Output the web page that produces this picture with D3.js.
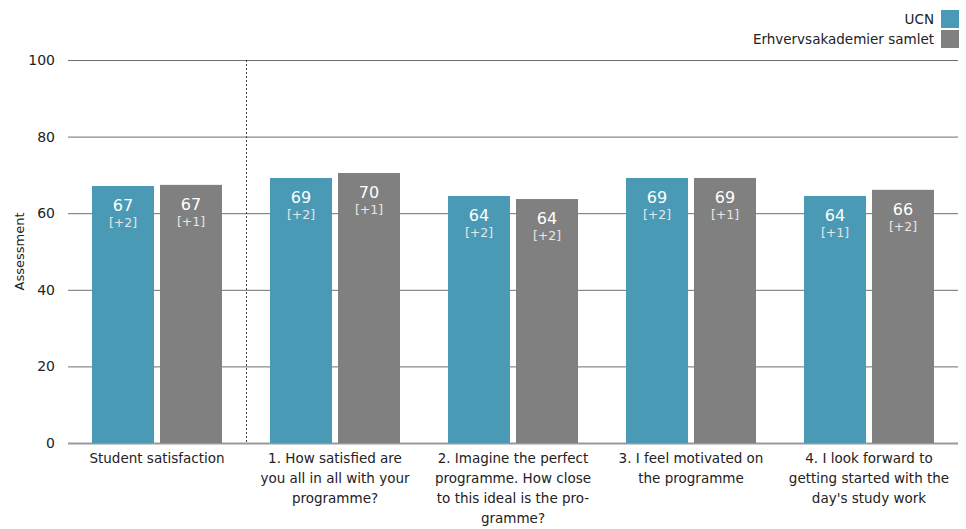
<!DOCTYPE html>
<html>
<head>
<meta charset="utf-8">
<script src="https://cdn.jsdelivr.net/npm/d3@7/dist/d3.min.js"></script>
<style>
  html, body { margin: 0; padding: 0; background: #fff; }
  svg { display: block; }
  text { font-family: "DejaVu Sans", Verdana, sans-serif; }
</style>
</head>
<body>
<svg id="chart" width="966" height="529"></svg>
<script>
const categories = [
  ["Student satisfaction"],
  ["1. How satisfied are", "you all in all with your", "programme?"],
  ["2. Imagine the perfect", "programme. How close", "to this ideal is the pro-", "gramme?"],
  ["3. I feel motivated on", "the programme"],
  ["4. I look forward to", "getting started with the", "day's study work"]
];
const seriesNames = ["UCN", "Erhvervsakademier samlet"];
const ucnValues = [67.1, 69.2, 64.5, 69.2, 64.5];
const totalValues = [67.4, 70.5, 63.7, 69.2, 66.1];
const ucnLabels = ["67", "69", "64", "69", "64"];
const totalLabels = ["67", "70", "64", "69", "66"];
const ucnDeltas = ["[+2]", "[+2]", "[+2]", "[+2]", "[+1]"];
const totalDeltas = ["[+1]", "[+1]", "[+2]", "[+1]", "[+2]"];
const yTicks = [0, 20, 40, 60, 80, 100];
const colors = ["#4a9ab6", "#808080"];

const svg = d3.select("#chart");
const mLeft = 68, mRight = 958, mTop = 60, mBottom = 443;

const x0 = d3.scaleBand().domain(d3.range(categories.length)).range([mLeft, mRight]).paddingInner(48/178).paddingOuter(24/178);
const x1 = d3.scaleBand().domain([0, 1]).range([0, x0.bandwidth()]).paddingInner(6/68).paddingOuter(0);
const y = d3.scaleLinear().domain([0, 100]).range([mBottom, mTop]);

// gridlines
svg.append("g").selectAll("line").data(yTicks).join("line")
  .attr("x1", mLeft).attr("x2", mRight)
  .attr("y1", d => y(d) + 0.5).attr("y2", d => y(d) + 0.5)
  .attr("stroke", d => d === 0 ? "#999" : "#6e6e6e")
  .attr("stroke-width", d => d === 0 ? 2 : 1);

// y tick labels
svg.append("g").selectAll("text").data(yTicks).join("text")
  .attr("x", 55).attr("y", d => y(d))
  .attr("dy", "0.35em")
  .attr("text-anchor", "end")
  .attr("font-size", 14).attr("fill", "#222")
  .text(d => d);

// y axis title
svg.append("text")
  .attr("transform", `translate(24,${(mTop + mBottom) / 2}) rotate(-90)`)
  .attr("text-anchor", "middle")
  .attr("font-size", 13).attr("fill", "#222")
  .text("Assessment");

// dotted separator
const sepX = (x0(0) + x0.bandwidth() + x0(1)) / 2;
svg.append("line")
  .attr("x1", Math.round(sepX) + 0.5).attr("x2", Math.round(sepX) + 0.5)
  .attr("y1", mTop).attr("y2", mBottom)
  .attr("stroke", "#444").attr("stroke-width", 1)
  .attr("stroke-dasharray", "2,2");

// bars
const data = categories.map((c, i) => ({
  i,
  vals: [
    { s: 0, v: ucnValues[i], lab: ucnLabels[i], d: ucnDeltas[i] },
    { s: 1, v: totalValues[i], lab: totalLabels[i], d: totalDeltas[i] }
  ]
}));

const groups = svg.append("g").selectAll("g").data(data).join("g")
  .attr("transform", d => `translate(${x0(d.i)},0)`);

groups.selectAll("rect").data(d => d.vals).join("rect")
  .attr("x", d => x1(d.s)).attr("width", x1.bandwidth())
  .attr("y", d => y(d.v)).attr("height", d => y(0) - y(d.v))
  .attr("fill", d => colors[d.s]);

groups.selectAll("text.val").data(d => d.vals).join("text")
  .attr("class", "val")
  .attr("x", d => x1(d.s) + x1.bandwidth() / 2)
  .attr("y", d => y(d.v) + 25)
  .attr("text-anchor", "middle")
  .attr("font-size", 16).attr("fill", "#fff")
  .text(d => d.lab);

groups.selectAll("text.delta").data(d => d.vals).join("text")
  .attr("class", "delta")
  .attr("x", d => x1(d.s) + x1.bandwidth() / 2)
  .attr("y", d => y(d.v) + 41)
  .attr("text-anchor", "middle")
  .attr("font-size", 12.5).attr("fill", "#e6e6e6")
  .text(d => d.d);

// category labels
const cl = svg.append("g").selectAll("text").data(categories).join("text")
  .attr("x", (d, i) => x0(i) + x0.bandwidth() / 2)
  .attr("y", 463)
  .attr("text-anchor", "middle")
  .attr("font-size", 13.5).attr("fill", "#222");
cl.selectAll("tspan").data(d => d).join("tspan")
  .attr("x", function() { return d3.select(this.parentNode).attr("x"); })
  .attr("dy", (d, j) => j === 0 ? 0 : 20)
  .text(d => d);

// legend
const leg = svg.append("g").selectAll("g").data(seriesNames).join("g")
  .attr("transform", (d, i) => `translate(0,${10 + i * 20})`);
leg.append("rect").attr("x", 941).attr("y", 0).attr("width", 18).attr("height", 18)
  .attr("fill", (d, i) => colors[i]);
leg.append("text").attr("x", 934).attr("y", 14)
  .attr("text-anchor", "end").attr("font-size", 13.5).attr("fill", "#222")
  .text(d => d);
</script>
</body>
</html>
